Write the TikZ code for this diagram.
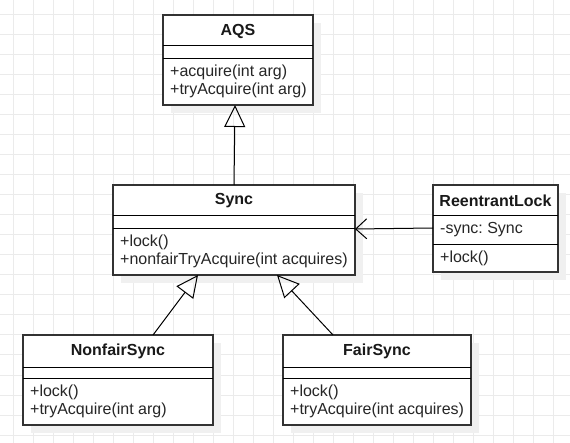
\documentclass[tikz,border=0pt]{standalone}
\usepackage{fontspec}
\setmainfont{Liberation Sans}
\usetikzlibrary{arrows.meta,calc}
\definecolor{gridc}{HTML}{EBEBEB}
\definecolor{shadowc}{HTML}{F0F0F0}
\definecolor{linec}{HTML}{333333}
\frenchspacing
\tikzset{
  classbox/.style={draw=linec, line width=1.1pt, fill=white, rectangle, inner sep=0pt, outer sep=0pt, anchor=north west},
  sepline/.style={draw=black, line width=1pt},
  title/.style={font=\fontsize{16}{18}\selectfont\bfseries, inner sep=0pt, text=black!90},
  member/.style={font=\fontsize{16}{18}\selectfont, inner sep=0pt, anchor=west, text=black!85},
  gen/.style={draw=black, line width=1pt, -{Triangle[open,length=22pt,width=21pt,line width=1pt]}},
  assoc/.style={draw=black, line width=1pt, -{Straight Barb[length=11pt,width=20pt,line width=1pt]}},
}
\begin{document}
\begin{tikzpicture}[x=1pt,y=-1pt]
\useasboundingbox (0,0) rectangle (570,443);
\fill[white] (0,0) rectangle (570,443);
% grid
\foreach \gx in {13,33,...,570} \draw[gridc, line width=1pt] (\gx,0) -- (\gx,443);
\foreach \gy in {15,35,...,443} \draw[gridc, line width=1pt] (0,\gy) -- (570,\gy);
% shadows
\fill[shadowc] (171,23) rectangle (321,113);
\fill[shadowc] (121,193) rectangle (363,283);
\fill[shadowc] (441,193) rectangle (566,280);
\fill[shadowc] (31,343) rectangle (221,433);
\fill[shadowc] (291,343) rectangle (479,433);

% AQS
\node[classbox, minimum width=150pt, minimum height=90pt] (aqs) at (163,15) {};
\draw[sepline] (aqs.west |- 0,46) -- (aqs.east |- 0,46);
\draw[sepline] (aqs.west |- 0,59) -- (aqs.east |- 0,59);
\node[title] (aqst) at (238,31) {AQS};
\node[member] (aqsm1) at (170,72) {+acquire(int arg)};
\node[member] (aqsm2) at (170,90.5) {+tryAcquire(int arg)};

% Sync
\node[classbox, minimum width=242pt, minimum height=90pt] (sync) at (113,185) {};
\draw[sepline] (sync.west |- 0,216) -- (sync.east |- 0,216);
\draw[sepline] (sync.west |- 0,229) -- (sync.east |- 0,229);
\node[title] (synct) at (234,201) {Sync};
\node[member] (syncm1) at (120,242) {+lock()};
\node[member] (syncm2) at (120,260.5) {+nonfairTryAcquire(int acquires)};

% ReentrantLock
\node[classbox, minimum width=125pt, minimum height=87pt] (rl) at (433,185) {};
\draw[sepline] (rl.west |- 0,216) -- (rl.east |- 0,216);
\draw[sepline] (rl.west |- 0,245) -- (rl.east |- 0,245);
\node[title] (rlt) at (495.5,201) {ReentrantLock};
\node[member] (rla1) at (440,229.5) {-sync: Sync};
\node[member] (rlm1) at (440,258.5) {+lock()};

% NonfairSync
\node[classbox, minimum width=190pt, minimum height=90pt] (nfs) at (23,335) {};
\draw[sepline] (nfs.west |- 0,367) -- (nfs.east |- 0,367);
\draw[sepline] (nfs.west |- 0,378) -- (nfs.east |- 0,378);
\node[title] (nfst) at (118,351) {NonfairSync};
\node[member] (nfsm1) at (30,392) {+lock()};
\node[member] (nfsm2) at (30,410.5) {+tryAcquire(int arg)};

% FairSync
\node[classbox, minimum width=188pt, minimum height=90pt] (fs) at (283,335) {};
\draw[sepline] (fs.west |- 0,367) -- (fs.east |- 0,367);
\draw[sepline] (fs.west |- 0,378) -- (fs.east |- 0,378);
\node[title] (fst) at (377,351) {FairSync};
\node[member] (fsm1) at (290,392) {+lock()};
\node[member] (fsm2) at (290,410.5) {+tryAcquire(int acquires)};

% connectors
\draw[gen] ($(sync.north west)+(121,0)$) -- ($(aqs.south west)+(72,0)$);
\draw[gen] ($(nfs.north west)+(130,0)$) -- ($(sync.south west)+(85,0)$);
\draw[gen] ($(fs.north west)+(50,0)$) -- ($(sync.south west)+(164,0)$);
\draw[assoc] ($(rl.north west)+(0,43)$) -- ($(sync.north east)+(0,44)$);
\end{tikzpicture}
\end{document}
